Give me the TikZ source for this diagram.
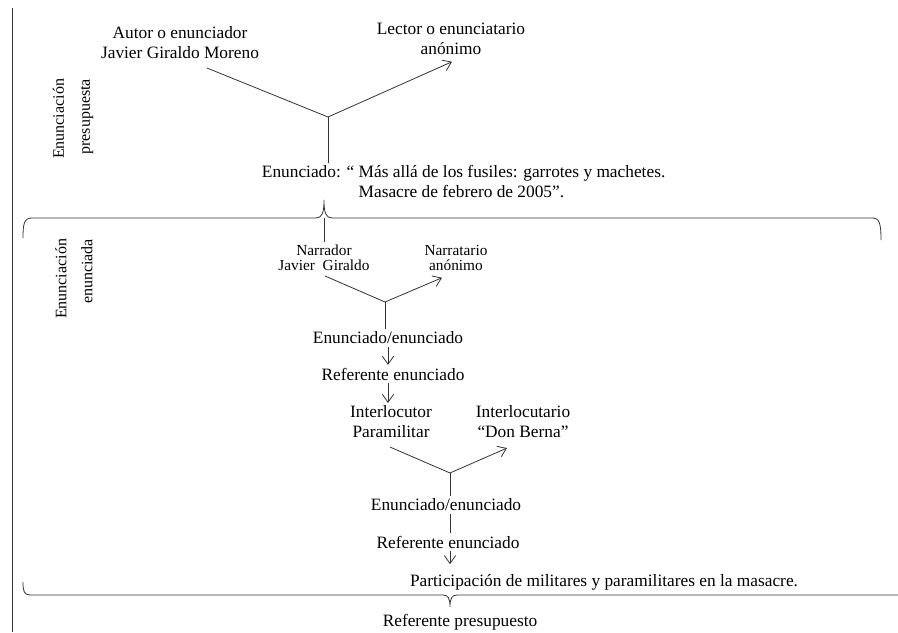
\documentclass[tikz,border=0pt]{standalone}
\usepackage{fontspec}
\setmainfont{Liberation Serif}
\usetikzlibrary{arrows.meta,calc}

\begin{document}
\begin{tikzpicture}[x=0.75pt, y=-0.75pt,
  >={Straight Barb[length=6pt,width=8.5pt]},
  texto/.style={font=\fontsize{13}{15}\selectfont, align=center, inner sep=2pt},
  chico/.style={font=\fontsize{11.5}{11.5}\selectfont, align=center, inner sep=2pt},
  rotulo/.style={font=\fontsize{12}{19.5}\selectfont, rotate=90, anchor=east, align=right, inner sep=2pt},
  linea/.style={draw=black!80, line width=0.6pt}]
  \useasboundingbox (0,0) rectangle (898,632);

  % Margin rule
  \draw[linea] (12,8) -- (12,632);

  % Enunciacion presupuesta
  \node[rotulo] (presupuesta) at (73,76) {Enunciación\\presupuesta};
  \node[texto] (autor) at (180,43) {Autor o enunciador\\Javier Giraldo Moreno};
  \node[texto] (lector) at (451,39) {Lector o enunciatario\\anónimo};
  \node[texto, anchor=west, align=left] (enun) at (259,182)
    {Enunciado: “ Más allá de los fusiles: garrotes y machetes.\\\phantom{Enunciado: “ }Masacre de febrero de 2005”.};
  \coordinate (v1) at (328,117);
  \draw[linea, ->] ($(autor.south)+(27,6)$) -- (v1) -- ($(lector.south)+(1,4)$);
  \draw[linea] (v1) -- (v1 |- enun.north);

  % Upper brace
  \draw[linea] (23,238) .. controls (23,224) and (24,218) .. (32,218) -- (316,218)
    .. controls (322,218) and (324,213) .. (324,200) .. controls (324,213) and (326,218) .. (332,218)
    -- (872,218) .. controls (879,218) and (881,222) .. (881,240);
  \coordinate (llave1) at (324,218);

  % Enunciacion enunciada
  \node[rotulo] (enunciada) at (74,236) {Enunciación\\enunciada};
  \node[chico] (narrador) at (324,258) {Narrador\\Javier\ \ Giraldo};
  \node[chico] (narratario) at (456,258) {Narratario\\anónimo};
  \draw[linea] (llave1) -- (narrador.north);

  \coordinate (v2) at (385,302);
  \draw[linea, ->] ($(narrador.south)+(1,2)$) -- (v2) -- ($(narratario.south)+(-14,4)$);
  \node[texto] (enun1) at (388,338) {Enunciado/enunciado};
  \draw[linea] (v2) -- (v2 |- enun1.north);
  \node[texto] (ref1) at (393,374) {Referente enunciado};
  \draw[linea, ->] (enun1.south) -- (ref1.north -| enun1);
  \node[texto] (interlocutor) at (391,422) {Interlocutor\\Paramilitar};
  \node[texto] (interlocutario) at (523,422) {Interlocutario\\“Don Berna”};
  \draw[linea, ->] (ref1.south -| enun1) -- (interlocutor.north -| enun1);

  \coordinate (v3) at (450,473);
  \draw[linea, ->] ($(interlocutor.south)+(-1,6)$) -- (v3) -- ($(interlocutario.south)+(-16,7)$);
  \node[texto] (enun2) at (446,505) {Enunciado/enunciado};
  \draw[linea] (v3) -- (v3 |- enun2.north);
  \node[texto] (ref2) at (448,542) {Referente enunciado};
  \draw[linea] (enun2.south -| v3) -- (ref2.north -| v3);
  \node[texto] (particip) at (604,582) {Participación de militares y paramilitares en la masacre.};
  \draw[linea, ->] (ref2.south -| v3) -- ($(particip.north -| v3)+(0,-7)$);

  % Lower brace
  \draw[linea] (23,582) .. controls (23,591) and (24,595) .. (30,595) -- (443,595)
    .. controls (448,595) and (450,598) .. (450,607) .. controls (450,598) and (452,595) .. (457,595)
    -- (898,595);
  \node[texto] (refpres) at (460,622) {Referente presupuesto};
\end{tikzpicture}
\end{document}
